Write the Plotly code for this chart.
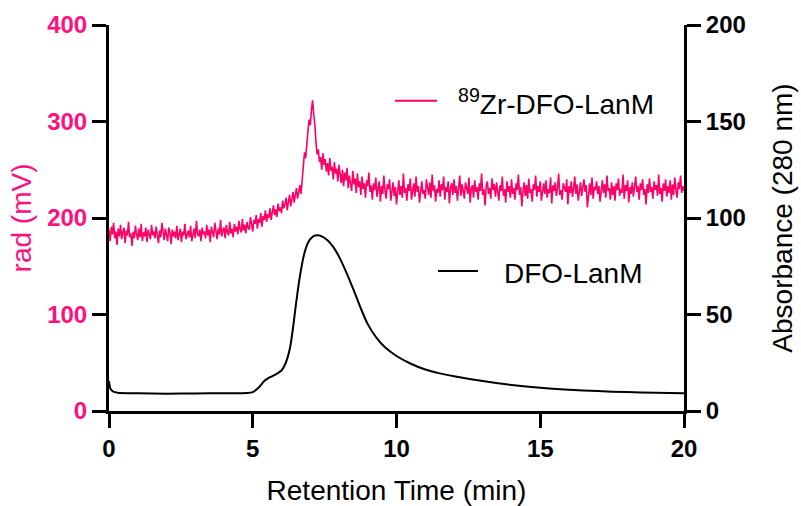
import numpy as np
import plotly.graph_objects as go

# Radio trace (left axis, rad mV), sampled every 0.04 min from 0 to 20
rad_time = np.round(np.arange(501) * 0.04, 2)
rad_mv = [
    188, 176, 191, 183, 195, 179, 186, 172, 189, 181,
    193, 178, 185, 190, 174, 187, 182, 196, 180, 184,
    171, 186, 179, 192, 183, 177, 189, 180, 194, 176,
    185, 181, 190, 175, 188, 183, 178, 193, 182, 186,
    179, 191, 184, 174, 187, 180, 195, 183, 177, 189,
    182, 176, 190, 185, 173, 188, 181, 186, 179, 192,
    177, 184, 189, 175, 186, 182, 194, 178, 183, 187,
    180, 192, 176, 185, 189, 179, 197, 184, 181, 188,
    176, 190, 183, 186, 179, 193, 182, 188, 175, 191,
    184, 180, 195, 186, 178, 189, 183, 198, 181, 187,
    190, 179, 193, 185, 182, 196, 184, 189, 180, 194,
    186, 191, 183, 197, 188, 185, 199, 187, 193, 184,
    196, 190, 188, 201, 192, 186, 198, 194, 203, 189,
    199, 195, 205, 191, 202, 198, 208, 196, 204, 200,
    210, 198, 206, 213, 203, 209, 201, 215, 207, 211,
    205, 218, 210, 214, 221, 208, 217, 224, 212, 220,
    227, 216, 223, 231, 220, 228, 234, 225, 241, 252,
    268, 262, 281, 290, 302, 296, 311, 322, 308, 297,
    278, 266, 271, 258, 263, 250, 267, 255, 261, 248,
    257, 244, 262, 249, 253, 240, 258, 246, 251, 238,
    255, 242, 236, 250, 233, 247, 239, 252, 231, 244,
    237, 228, 249, 235, 241, 226, 246, 232, 238, 224,
    243, 230, 236, 221, 239, 233, 247, 227, 234, 219,
    236, 229, 242, 222, 231, 238, 217, 233, 225, 244,
    228, 220, 235, 230, 240, 218, 227, 237, 223, 232,
    214, 229, 239, 224, 233, 221, 246, 226, 231, 218,
    235, 228, 241, 219, 230, 236, 222, 243, 227, 233,
    216, 231, 238, 225, 229, 220, 240, 232, 224, 237,
    221, 245, 228, 234, 217, 230, 226, 239, 222, 235,
    229, 243, 219, 232, 227, 238, 215, 231, 236, 224,
    240, 226, 233, 218, 229, 244, 223, 235, 228, 220,
    237, 231, 225, 242, 216, 230, 234, 221, 239, 227,
    232, 219, 236, 228, 246, 224, 230, 213, 233, 238,
    225, 231, 220, 241, 229, 235, 222, 237, 226, 218,
    234, 228, 243, 223, 230, 216, 238, 227, 233, 221,
    240, 225, 231, 219, 236, 229, 245, 224, 232, 212,
    228, 237, 223, 234, 220, 241, 226, 230, 217, 235,
    229, 244, 222, 233, 227, 238, 218, 231, 236, 225,
    239, 221, 230, 226, 242, 215, 234, 228, 237, 223,
    231, 246, 224, 229, 219, 236, 232, 227, 240, 214,
    233, 226, 238, 222, 230, 243, 225, 235, 218, 229,
    237, 223, 231, 240, 227, 234, 211, 228, 236, 224,
    242, 220, 232, 229, 238, 225, 233, 217, 230, 239,
    226, 235, 221, 244, 228, 231, 219, 237, 224, 233,
    218, 236, 229, 241, 223, 230, 226, 245, 220, 234,
    228, 239, 216, 232, 225, 237, 222, 231, 243, 227,
    233, 219, 236, 229, 240, 224, 230, 214, 235, 226,
    241, 227, 232, 220, 238, 229, 234, 223, 245, 225,
    231, 217, 236, 228, 240, 222, 233, 226, 239, 219,
    235, 224, 242, 229, 221, 237, 230, 244, 226, 233,
    228,
]

# UV trace (right axis, absorbance 280 nm)
uv_time = [0, 0.05, 0.15, 0.3, 1, 2, 3, 4, 4.8, 5.0, 5.2, 5.4, 5.6, 5.8, 6.0,
           6.15, 6.3, 6.4, 6.5, 6.6, 6.7, 6.8, 6.9, 7.0, 7.1, 7.25, 7.4, 7.6,
           7.8, 8.0, 8.25, 8.5, 8.75, 9.0, 9.3, 9.6, 10.0, 10.5, 11, 11.5, 12,
           13, 14, 15, 16, 17, 18, 19, 20]
uv_abs = [15.5, 11.5, 10, 9.5, 9.2, 9.0, 9.1, 9.2, 9.3, 9.8, 12, 15.5, 17.5, 19, 21,
          25, 33, 43, 55, 66, 75, 82, 86.5, 89, 90.5, 91, 90.5, 88.5,
          85, 80, 72, 63, 53.5, 45, 38, 33, 28.5, 24.5, 21.5, 19.5, 18,
          15.5, 13.5, 12, 11, 10.3, 9.8, 9.4, 9.2]

x_ticks = [0, 5, 10, 15, 20]
left_ticks = [0, 100, 200, 300, 400]
right_ticks = [0, 50, 100, 150, 200]

PINK = "#FF0066"
PINK_TXT = "#FF1080"
FONT = "Liberation Sans, Arial, sans-serif"

fig = go.Figure()
fig.add_trace(go.Scatter(x=rad_time, y=rad_mv, mode="lines", name="89Zr-DFO-LanM",
                         line=dict(color=PINK, width=1.6), yaxis="y", showlegend=False))
fig.add_trace(go.Scatter(x=uv_time, y=uv_abs, mode="lines", name="DFO-LanM",
                         line=dict(color="black", width=2, shape="spline", smoothing=0.6),
                         yaxis="y2", showlegend=False))

axis_common = dict(showline=True, linecolor="black", linewidth=3, ticks="outside",
                   ticklen=14, tickwidth=3, tickcolor="black", showgrid=False,
                   zeroline=False, automargin=False)

fig.update_layout(
    width=801, height=506,
    margin=dict(l=109, r=117, t=25, b=95),
    plot_bgcolor="white", paper_bgcolor="white",
    font=dict(family=FONT, color="black"),
    xaxis=dict(range=[0, 20], tickvals=x_ticks,
               tickfont=dict(size=24, weight="bold", color="black"),
               title=dict(text="Retention Time (min)", font=dict(size=28), standoff=22),
               **axis_common),
    yaxis=dict(range=[0, 400], tickvals=left_ticks,
               tickfont=dict(size=24, weight="bold", color=PINK_TXT),
               title=dict(text="rad (mV)", font=dict(size=28, color=PINK_TXT), standoff=8),
               **axis_common),
    yaxis2=dict(range=[0, 200], tickvals=right_ticks, overlaying="y", side="right",
                tickfont=dict(size=24, weight="bold", color="black"),
                title=dict(text="Absorbance (280 nm)", font=dict(size=28), standoff=28),
                **axis_common),
)

# legend keys
fig.add_shape(type="line", xref="paper", yref="paper", x0=0.4974, x1=0.5704,
              y0=0.804, y1=0.804, line=dict(color=PINK, width=2))
fig.add_shape(type="line", xref="paper", yref="paper", x0=0.5722, x1=0.6417,
              y0=0.3627, y1=0.3627, line=dict(color="black", width=2))
fig.add_annotation(xref="paper", yref="paper", x=0.604, y=0.80, xanchor="left",
                   yanchor="middle", showarrow=False,
                   text="<sup>89</sup>Zr-DFO-LanM", font=dict(size=28, color="black"))
fig.add_annotation(xref="paper", yref="paper", x=0.683, y=0.3575, xanchor="left",
                   yanchor="middle", showarrow=False,
                   text="DFO-LanM", font=dict(size=28, color="black"))

fig.write_html("out.html")
